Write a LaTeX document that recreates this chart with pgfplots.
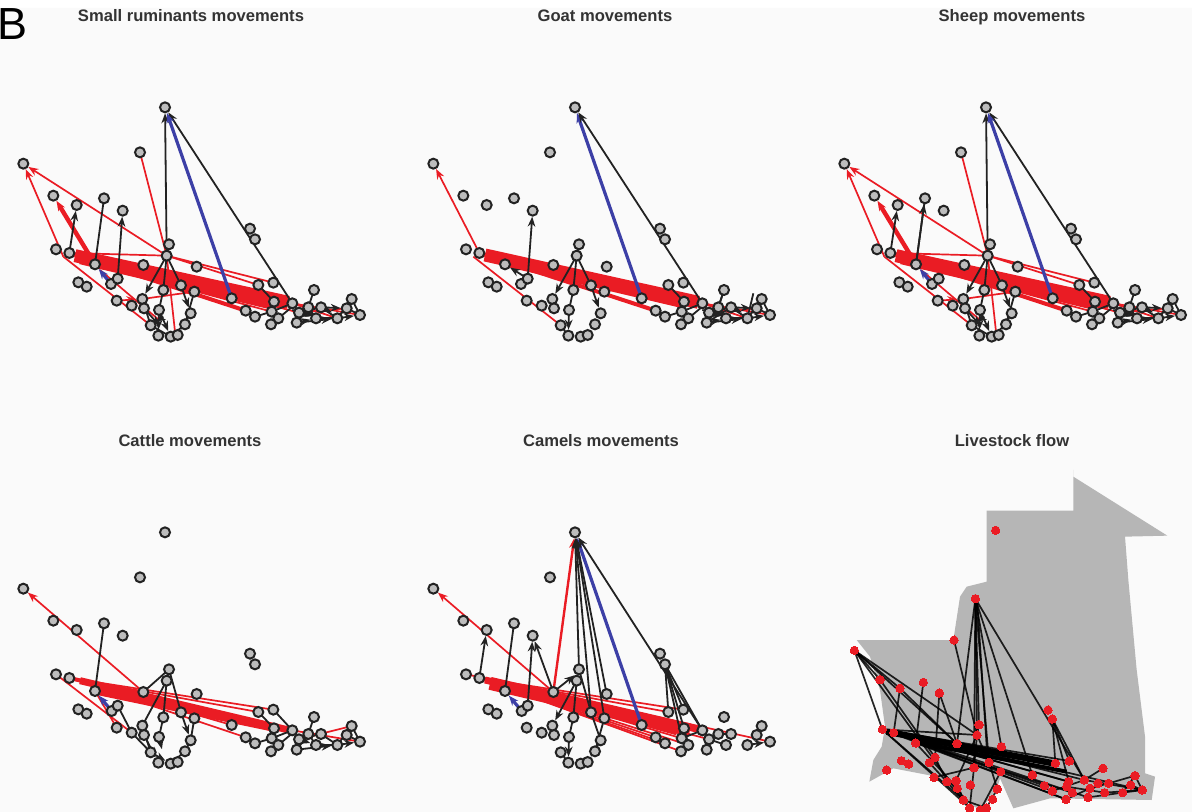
\documentclass[border=0pt]{standalone}
\usepackage{fontspec}
\setmainfont{Liberation Sans}
\usepackage{pgfplots}
\usepackage{pgfplotstable}
\pgfplotsset{compat=1.18}
\usetikzlibrary{arrows.meta}

\definecolor{mred}{HTML}{EA1C24}
\definecolor{mblue}{HTML}{3C3FA6}
\definecolor{mblack}{HTML}{222222}
\definecolor{mring}{HTML}{BDBDBD}
\definecolor{mmap}{HTML}{B6B6B6}
\definecolor{bgc}{HTML}{FAFAFA}

% node positions, same layout in every network panel
\pgfplotstableread{
x y
495 52
420 187
70 221
160 317
230 345
312 325
368 362
168 478
208 489
285 523
430 525
507 463
500 497
590 530
750 416
765 448
235 577
260 590
333 582
353 566
350 632
395 647
427 627
432 655
490 600
543 586
583 605
477 660
572 670
452 706
555 703
475 737
512 740
533 735
695 625
737 662
765 680
775 585
820 578
822 635
815 665
835 685
813 703
877 640
897 668
890 698
925 652
942 600
963 652
948 685
1012 685
1055 627
1080 675
1040 655
}\nodesTop

\pgfplotstableread{
x y
495 52
420 187
70 221
160 317
230 345
312 325
368 362
168 478
208 489
285 528
430 531
507 463
500 497
590 537
750 416
765 448
235 583
260 596
335 588
353 572
350 638
395 653
427 632
432 660
490 607
543 592
583 610
477 666
572 676
452 712
555 709
475 743
512 746
533 741
695 630
737 667
765 685
775 591
820 584
822 640
815 670
835 690
813 709
877 646
897 673
890 704
925 657
942 606
963 657
948 690
1012 690
1055 633
1080 680
1040 660
}\nodesBottom

\pgfplotstableread{
x y
527 181
466 386
402 510
103 541
180 629
240 655
310 637
358 669
187 778
221 788
287 819
411 821
477 764
471 795
544 830
684 720
697 747
244 872
266 882
200 900
328 878
345 862
342 922
381 935
408 932
412 955
462 893
507 877
542 905
451 945
532 957
430 990
518 988
449 1014
481 1020
499 1014
637 915
673 947
697 963
706 880
748 873
746 935
740 950
757 968
738 988
793 930
810 955
804 982
834 940
849 895
866 940
854 968
908 968
945 917
967 960
932 945
}\nodesMap

\pgfplotsset{
  panel/.style={
    scale only axis, hide axis, clip=false, y dir=reverse,
    width=190pt, height=130pt, xmin=0, xmax=1140, ymin=0, ymax=780,
    anchor=south west,
  },
}
\tikzset{
  tip/.style={-{Stealth[length=5pt,width=3.8pt]}, shorten >=3pt},
  r1/.style={draw=mred, line width=0.85pt, tip},
  r0/.style={draw=mred, line width=0.85pt},
  r2/.style={draw=mred, line width=2pt},
  r3/.style={draw=mred, line width=3.5pt},
  r4/.style={draw=mred, line width=6.5pt},
  rt/.style={draw=mred, line width=2.2pt, tip},
  rm/.style={draw=mred, line width=1.2pt, tip},
  b1/.style={draw=mblue, line width=1.6pt, tip},
  k1/.style={draw=mblack, line width=0.9pt, tip},
  k0/.style={draw=mblack, line width=0.9pt},
  m0/.style={draw=black, line width=0.85pt, opacity=0.85},
  ring/.style={only marks, mark=*, mark size=2.5pt,
    mark options={fill=mring, draw=mblack, line width=1pt}},
}
\newcommand{\E}[3]{\addplot[#1] coordinates {(#2) (#3)};}

% right hand cluster, top row panels
\newcommand{\ClusterTop}{
\E{r0}{877,640}{1080,675}
\E{r0}{897,668}{1040,655}
\E{r0}{877,640}{1012,685}
\E{k0}{775,585}{822,635}
\E{k0}{815,665}{877,640}
\E{k0}{765,680}{815,665}
\E{k0}{737,662}{765,680}
\E{k0}{835,685}{877,650}
\E{k0}{877,640}{897,668}
\E{k0}{890,698}{925,652}
\E{k0}{925,652}{942,600}
\E{k0}{897,668}{963,652}
\E{k0}{925,652}{948,685}
\E{k0}{948,685}{1012,685}
\E{k0}{963,652}{1012,685}
\E{k0}{1012,685}{1055,627}
\E{k0}{1040,655}{1080,675}
\E{k0}{1055,627}{1080,675}
\E{k1}{1012,685}{1080,675}
\E{k1}{897,668}{948,685}
\E{k1}{890,698}{1012,685}
\E{k1}{963,652}{1040,655}
\E{k1}{890,698}{948,685}
\E{k1}{925,652}{890,698}
\E{k1}{877,660}{963,680}
\E{k1}{963,652}{1012,675}
\E{k1}{1040,655}{1012,685}
}

% small ruminants and sheep share nearly all edges
\newcommand{\SmallEdges}{
\E{r4}{225,497}{865,637}
\E{r3}{285,523}{835,632}
\E{r3}{240,512}{822,650}
\E{r2}{208,489}{737,662}
\E{r0}{208,489}{897,668}
\E{r0}{285,523}{815,665}
\E{r0}{500,497}{820,578}
\E{r0}{208,489}{500,497}
\E{r0}{500,497}{775,585}
\E{r1}{500,497}{70,221}
\E{r1}{190,500}{70,221}
\E{r0}{500,497}{420,187}
\E{rt}{285,523}{160,317}
\E{r0}{190,500}{452,706}
\E{r0}{300,540}{477,690}
\E{r1}{350,632}{427,627}
\E{r0}{427,627}{583,605}
\E{r0}{500,497}{525,725}
\E{k1}{500,497}{495,52}
\E{k1}{877,640}{495,52}
\E{b1}{695,625}{495,52}
\E{b1}{333,582}{285,523}
\E{k1}{208,489}{230,345}
\E{k0}{285,523}{312,325}
\E{k0}{507,463}{500,497}
\E{k1}{500,497}{427,627}
\E{k0}{500,497}{490,600}
\E{k0}{500,497}{543,586}
\E{k1}{543,586}{572,670}
\E{k0}{583,605}{555,703}
\E{k0}{490,600}{477,660}
\E{k1}{477,660}{475,737}
\E{k0}{427,627}{452,706}
\E{k1}{432,655}{490,720}
\E{k1}{572,670}{533,735}
\E{k0}{452,706}{512,740}
\E{k0}{555,703}{512,740}
\E{k1}{490,680}{452,706}
\E{k0}{353,566}{333,582}
\E{k1}{477,660}{512,740}
\ClusterTop
}

\begin{document}
\begin{tikzpicture}
\useasboundingbox (0,0) rectangle (596pt,406pt);

% page background, titles and panel letter, in image pixels
\begin{axis}[scale only axis, hide axis, clip=false, y dir=reverse, at={(0pt,0pt)}, anchor=south west,
    width=596pt, height=406pt, xmin=0, xmax=1192, ymin=0, ymax=812]
\addplot[fill=bgc, draw=none] coordinates {(0,8) (1192,8) (1192,812) (0,812)} \closedcycle;
\node[anchor=base west, inner sep=0pt, font=\fontsize{22.5}{24}\selectfont] at (axis cs:-3,40) {B};
\tikzset{ttl/.style={anchor=base, inner sep=0pt, text=black!80, font=\fontsize{8.3}{10}\selectfont\bfseries}}
\node[ttl] at (axis cs:191,22) {Small ruminants movements};
\node[ttl] at (axis cs:605,22) {Goat movements};
\node[ttl] at (axis cs:1012,22) {Sheep movements};
\node[ttl] at (axis cs:190,446) {Cattle movements};
\node[ttl] at (axis cs:601,446) {Camels movements};
\node[ttl] at (axis cs:1012,446) {Livestock flow};
\end{axis}

% Small ruminants
\begin{axis}[panel, at={(0pt,231pt)}]
\SmallEdges
\E{k1}{353,566}{368,362}
\addplot[ring] table[x=x, y=y] {\nodesTop};
\end{axis}

% Goat
\begin{axis}[panel, at={(205pt,231pt)}]
\E{r4}{225,495}{865,637}
\E{r3}{300,522}{822,645}
\E{r2}{208,489}{737,662}
\E{r1}{208,489}{70,221}
\E{r0}{190,500}{452,706}
\E{b1}{695,625}{495,52}
\E{k1}{877,640}{495,52}
\E{k1}{353,566}{368,362}
\E{k1}{353,566}{285,523}
\E{k0}{507,463}{500,497}
\E{k1}{500,497}{427,627}
\E{k0}{500,497}{490,600}
\E{k0}{500,497}{543,586}
\E{k1}{543,586}{572,670}
\E{k0}{490,600}{477,660}
\E{k1}{477,660}{475,737}
\E{k0}{452,706}{475,737}
\E{k0}{942,600}{925,652}
\ClusterTop
\E{k0}{890,698}{963,652}
\E{k0}{1012,685}{1030,610}
\addplot[ring] table[x=x, y=y] {\nodesTop};
\end{axis}

% Sheep
\begin{axis}[panel, at={(410pt,231pt)}, xmin=-3, xmax=1113, width=186pt]
\SmallEdges
\E{k1}{285,523}{312,325}
\addplot[ring] table[x=x, y=y] {\nodesTop};
\end{axis}

% Cattle
\begin{axis}[panel, at={(0pt,18.5pt)}]
\E{r3}{240,497}{870,646}
\E{r3}{285,528}{822,640}
\E{r2}{208,489}{500,555}
\E{r0}{208,489}{820,584}
\E{r0}{208,489}{775,591}
\E{r0}{208,489}{695,630}
\E{r0}{208,489}{737,667}
\E{r0}{168,478}{395,653}
\E{r0}{285,528}{350,638}
\E{r1}{430,531}{70,221}
\E{r0}{877,646}{1080,680}
\E{r0}{897,673}{1055,633}
\E{b1}{335,588}{285,528}
\E{k0}{285,528}{312,325}
\E{k0}{507,463}{500,497}
\E{k0}{430,531}{507,463}
\E{k0}{500,497}{427,632}
\E{k0}{500,497}{490,607}
\E{k0}{507,463}{543,592}
\E{k0}{353,572}{395,653}
\E{k0}{395,653}{452,712}
\E{k0}{490,607}{477,666}
\E{k0}{427,632}{452,712}
\E{k1}{432,660}{475,743}
\E{k1}{477,666}{490,720}
\E{k1}{543,592}{572,676}
\E{k0}{583,610}{572,676}
\E{k0}{572,676}{555,709}
\E{k0}{555,709}{512,746}
\E{k1}{452,712}{512,746}
\E{k0}{775,591}{822,640}
\E{k0}{820,584}{877,646}
\E{k0}{815,670}{877,646}
\E{k0}{765,685}{815,670}
\E{k0}{737,667}{765,685}
\E{k0}{835,690}{877,655}
\E{k0}{877,646}{897,673}
\E{k0}{890,704}{925,657}
\E{k0}{925,657}{942,606}
\E{k0}{897,673}{963,657}
\E{k0}{925,657}{948,690}
\E{k0}{948,690}{1012,690}
\E{k0}{963,657}{1012,690}
\E{k0}{1012,690}{1055,633}
\E{k0}{1040,660}{1080,680}
\E{k0}{1055,633}{1080,680}
\E{k1}{890,704}{1012,690}
\E{k1}{1012,690}{1080,680}
\E{k1}{897,673}{948,690}
\E{k1}{925,657}{890,704}
\addplot[ring] table[x=x, y=y] {\nodesBottom};
\end{axis}

% Camels
\begin{axis}[panel, at={(205pt,18.5pt)}]
\E{r4}{240,505}{840,645}
\E{r3}{225,495}{877,646}
\E{r2}{208,489}{800,655}
\E{r0}{208,489}{815,670}
\E{r0}{208,489}{737,667}
\E{r0}{208,489}{765,685}
\E{r0}{208,489}{813,709}
\E{r0}{208,489}{835,690}
\E{r0}{208,489}{1080,680}
\E{r0}{208,489}{820,584}
\E{r0}{208,489}{775,591}
\E{r0}{208,489}{897,673}
\E{r0}{168,478}{430,531}
\E{r0}{208,489}{695,630}
\E{r1}{430,531}{70,221}
\E{rm}{430,531}{495,52}
\E{b1}{695,630}{495,52}
\E{b1}{335,588}{285,528}
\E{k1}{507,463}{495,52}
\E{k1}{543,592}{495,52}
\E{k1}{590,537}{495,52}
\E{k1}{583,610}{495,52}
\E{k1}{877,646}{495,52}
\E{k0}{765,448}{775,591}
\E{k0}{765,448}{820,584}
\E{k0}{765,448}{822,640}
\E{k0}{765,448}{877,646}
\E{k0}{765,448}{815,670}
\E{k1}{208,489}{230,345}
\E{k0}{285,528}{312,325}
\E{k1}{353,572}{368,362}
\E{k1}{430,531}{368,362}
\E{k1}{430,531}{507,470}
\E{k1}{500,497}{427,632}
\E{k0}{500,497}{490,607}
\E{k0}{507,463}{543,592}
\E{k0}{490,607}{477,666}
\E{k1}{477,666}{475,743}
\E{k0}{452,712}{475,743}
\E{k0}{543,592}{572,676}
\E{k0}{583,610}{555,709}
\E{k1}{572,676}{533,741}
\E{k0}{737,667}{765,685}
\E{k0}{815,670}{877,646}
\E{k0}{835,690}{822,640}
\E{k0}{877,646}{897,673}
\E{k0}{925,657}{963,657}
\E{k0}{897,673}{948,690}
\E{k1}{1012,690}{1080,680}
\addplot[ring] table[x=x, y=y] {\nodesBottom};
\end{axis}

% Livestock flow on the country outline
\begin{axis}[panel, at={(410pt,0pt)}, width=186pt, height=171pt, xmin=0, xmax=1116, ymin=0, ymax=1026]
\addplot[fill=mmap, draw=none] coordinates {
  (760,20) (1042,197) (915,200) (925,330) (950,600) (975,800) (975,910) (1005,920) (995,990)
  (690,985) (580,1015) (540,925) (530,960) (480,1020) (430,990) (350,920) (220,895) (148,935)
  (160,870) (185,830) (195,770) (180,660) (150,560) (110,510) (400,510) (420,380) (440,350)
  (500,335) (500,122) (760,122)} \closedcycle;
\addplot[only marks, mark=*, mark size=2.1pt, mark options={fill=mred, draw=mred, line width=0pt}]
  table[x=x, y=y] {\nodesMap};
\E{m0}{103,541}{180,629}
\E{m0}{103,541}{187,778}
\E{m0}{103,541}{240,655}
\E{m0}{103,541}{471,795}
\E{m0}{103,541}{411,821}
\E{m0}{103,541}{430,990}
\E{m0}{180,629}{345,862}
\E{m0}{240,655}{221,788}
\E{m0}{240,655}{411,821}
\E{m0}{310,637}{287,819}
\E{m0}{358,669}{345,862}
\E{m0}{358,669}{411,821}
\E{m0}{402,510}{471,795}
\E{m0}{466,386}{411,821}
\E{m0}{466,386}{477,764}
\E{m0}{466,386}{471,795}
\E{m0}{466,386}{462,893}
\E{m0}{466,386}{507,877}
\E{m0}{466,386}{544,830}
\E{m0}{466,386}{637,915}
\E{m0}{466,386}{793,930}
\E{m0}{471,386}{500,830}
\E{m0}{697,747}{706,880}
\E{m0}{697,747}{748,873}
\E{m0}{697,747}{793,930}
\E{m0}{697,747}{746,935}
\E{m0}{187,778}{471,795}
\E{m0}{187,778}{748,873}
\E{m0}{187,778}{793,930}
\E{m0}{187,778}{746,935}
\E{m0}{187,778}{738,988}
\E{m0}{187,778}{673,947}
\E{m0}{187,778}{966,960}
\E{m0}{187,778}{430,990}
\E{m0}{187,778}{449,1014}
\addplot[draw=black, line width=3.2pt] coordinates {(200,785) (700,880)};
\addplot[draw=black, line width=2pt] coordinates {(280,815) (740,905)};
\E{m0}{221,788}{746,935}
\E{m0}{221,788}{697,963}
\E{m0}{221,788}{804,982}
\E{m0}{287,819}{738,988}
\E{m0}{287,819}{412,955}
\E{m0}{287,819}{757,968}
\E{m0}{477,764}{471,795}
\E{m0}{471,795}{408,932}
\E{m0}{471,795}{462,893}
\E{m0}{471,795}{507,877}
\E{m0}{462,893}{449,1014}
\E{m0}{507,877}{532,957}
\E{m0}{542,905}{481,1020}
\E{m0}{532,957}{499,1014}
\E{m0}{408,932}{430,990}
\E{m0}{412,955}{449,1014}
\E{m0}{342,922}{462,893}
\E{m0}{328,878}{430,990}
\E{m0}{345,862}{381,935}
\E{m0}{430,990}{499,1014}
\E{m0}{793,930}{849,895}
\E{m0}{793,930}{967,960}
\E{m0}{804,982}{967,960}
\E{m0}{810,955}{866,940}
\E{m0}{866,940}{945,917}
\E{m0}{945,917}{967,960}
\E{m0}{932,945}{967,960}
\E{m0}{908,968}{945,917}
\E{m0}{738,988}{810,955}
\E{m0}{697,963}{793,930}
\E{m0}{740,950}{854,968}
\E{m0}{854,968}{967,960}
\end{axis}
\end{tikzpicture}
\end{document}
